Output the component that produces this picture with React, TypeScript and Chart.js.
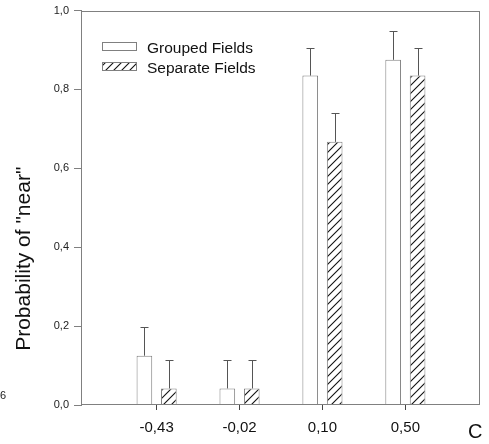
import React, { useEffect, useRef } from 'react';
import { Chart, registerables } from 'chart.js';

Chart.register(...registerables);

const categories = ['-0,43', '-0,02', '0,10', '0,50'];
const seriesNames = ['Grouped Fields', 'Separate Fields'];
const groupedValues = [0.125, 0.042, 0.835, 0.875];
const groupedErrors = [0.072, 0.071, 0.07, 0.072];
const separateValues = [0.042, 0.042, 0.667, 0.835];
const separateErrors = [0.072, 0.071, 0.072, 0.07];
const yTickLabels = ['0,0', '0,2', '0,4', '0,6', '0,8', '1,0'];
const yAxisTitle = 'Probability of "near"';
const xAxisTitle = 'C';
const strayLabel = '6';

const FONT = '"Liberation Sans", Arial, sans-serif';

function makeHatch(): CanvasPattern | string {
  const c = document.createElement('canvas');
  c.width = 8;
  c.height = 8;
  const g = c.getContext('2d');
  if (!g) return '#fff';
  g.fillStyle = '#ffffff';
  g.fillRect(0, 0, 8, 8);
  g.strokeStyle = '#111111';
  g.lineWidth = 1.1;
  g.beginPath();
  g.moveTo(-2, 10);
  g.lineTo(10, -2);
  g.moveTo(-2, 2);
  g.lineTo(2, -2);
  g.moveTo(6, 10);
  g.lineTo(10, 6);
  g.stroke();
  return g.createPattern(c, 'repeat') || '#fff';
}

export default function App() {
  const ref = useRef<HTMLCanvasElement | null>(null);

  useEffect(() => {
    const canvas = ref.current;
    if (!canvas) return;
    const hatch = makeHatch();
    const values = [groupedValues, separateValues];
    const errors = [groupedErrors, separateErrors];
    const fills = ['#ffffff', hatch];

    const decor = {
      id: 'decor',
      afterDatasetsDraw(chart: any) {
        const ctx = chart.ctx as CanvasRenderingContext2D;
        const ys = chart.scales.y;
        const a = chart.chartArea;
        ctx.save();
        // error bars
        ctx.strokeStyle = '#555555';
        ctx.lineWidth = 1;
        values.forEach((vals, di) => {
          const meta = chart.getDatasetMeta(di);
          meta.data.forEach((bar: any, i: number) => {
            const bx = Math.round(bar.x) + 0.5;
            const by = ys.getPixelForValue(vals[i]);
            const ty = Math.round(ys.getPixelForValue(vals[i] + errors[di][i])) + 0.5;
            ctx.beginPath();
            ctx.moveTo(bx, by);
            ctx.lineTo(bx, ty);
            ctx.moveTo(bx - 4, ty);
            ctx.lineTo(bx + 4, ty);
            ctx.stroke();
          });
        });
        // frame
        ctx.strokeStyle = '#808080';
        ctx.lineWidth = 1;
        const l = Math.round(a.left) - 0.5;
        const t = Math.round(a.top) + 0.5;
        const r = Math.round(a.right) - 0.5;
        const b = Math.round(a.bottom) - 0.5;
        ctx.strokeRect(l, t, r - l, b - t);
        // legend
        const lx = a.left + 20;
        const ly = a.top + 31;
        seriesNames.forEach((name, i) => {
          const top = Math.round(ly + i * 20.5);
          ctx.fillStyle = fills[i] as any;
          ctx.fillRect(lx, top, 35, 9);
          ctx.strokeStyle = '#808080';
          ctx.strokeRect(lx + 0.5, top + 0.5, 34, 8);
          ctx.fillStyle = '#111111';
          ctx.font = '15.5px ' + FONT;
          ctx.textAlign = 'left';
          ctx.textBaseline = 'alphabetic';
          ctx.fillText(name, lx + 45, top + 10.5);
        });
        // y title
        ctx.save();
        ctx.translate(30, (a.top + a.bottom) / 2 + 51);
        ctx.rotate(-Math.PI / 2);
        ctx.font = '21px ' + FONT;
        ctx.fillStyle = '#111111';
        ctx.textAlign = 'center';
        ctx.textBaseline = 'alphabetic';
        ctx.fillText(yAxisTitle, 0, 0);
        ctx.restore();
        // x title "C"
        ctx.font = '20px ' + FONT;
        ctx.fillStyle = '#111111';
        ctx.textAlign = 'left';
        ctx.fillText(xAxisTitle, a.right - 12, a.bottom + 32.5);
        // stray label
        ctx.font = '11px ' + FONT;
        ctx.fillStyle = '#222222';
        ctx.textAlign = 'right';
        ctx.fillText(strayLabel, 6, a.bottom - 6);
        ctx.restore();
      },
    };

    const chart = new Chart(canvas, {
      type: 'bar',
      data: {
        datasets: [
          {
            label: seriesNames[0],
            data: groupedValues.map((v, i) => ({ x: i + 1, y: v })),
            backgroundColor: fills[0] as any,
            borderColor: '#808080',
            borderWidth: 1,
            borderSkipped: 'start',
          },
          {
            label: seriesNames[1],
            data: separateValues.map((v, i) => ({ x: i + 1, y: v })),
            backgroundColor: fills[1] as any,
            borderColor: '#808080',
            borderWidth: 1,
            borderSkipped: 'start',
          },
        ],
      },
      options: {
        responsive: false,
        animation: false,
        events: [],
        categoryPercentage: 0.59,
        barPercentage: 0.64,
        layout: { padding: { top: 6, right: 9, left: 0, bottom: 0 } },
        plugins: {
          legend: { display: false },
          tooltip: { enabled: false },
          title: { display: false },
        },
        scales: {
          x: {
            type: 'linear',
            min: 0.1,
            max: 4.9,
            offset: false,
            afterFit: (s: any) => {
              s.height = 39;
            },
            border: { display: false },
            grid: {
              display: true,
              offset: false,
              drawOnChartArea: false,
              drawTicks: true,
              tickLength: 5,
              color: '#444444',
            },
            ticks: {
              stepSize: 1,
              includeBounds: false,
              autoSkip: false,
              maxRotation: 0,
              padding: 9,
              color: '#111111',
              font: { family: FONT, size: 15, lineHeight: 1.2 },
              callback: (v: any) => categories[Math.round(Number(v)) - 1] ?? '',
            },
          },
          y: {
            min: 0,
            max: 1,
            afterFit: (s: any) => {
              s.width = 82;
            },
            border: { display: false },
            grid: {
              display: true,
              drawOnChartArea: false,
              drawTicks: true,
              tickLength: 8,
              color: '#808080',
            },
            ticks: {
              stepSize: 0.2,
              padding: 5,
              color: '#222222',
              font: { family: FONT, size: 11, lineHeight: 1 },
              callback: (_v: any, i: number) => yTickLabels[i] ?? '',
            },
          },
        },
      },
      plugins: [decor],
    } as any);

    return () => chart.destroy();
  }, []);

  return (
    <div style={{ position: 'fixed', left: 0, top: 0, width: 489, height: 444, background: '#fff' }}>
      <canvas ref={ref} width={489} height={444} style={{ display: 'block', width: 489, height: 444 }} />
    </div>
  );
}
